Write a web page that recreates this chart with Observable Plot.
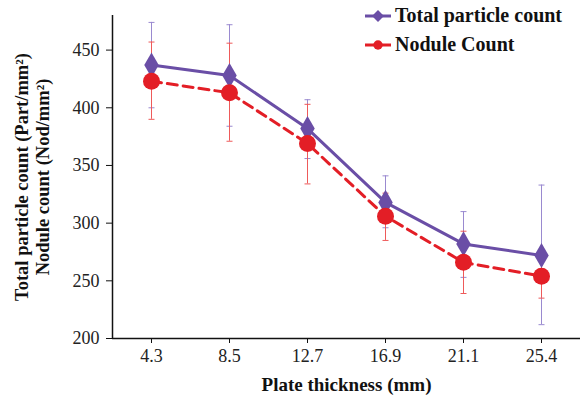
<!DOCTYPE html>
<html><head><meta charset="utf-8">
<script src="https://cdn.jsdelivr.net/npm/d3@7"></script>
<script src="https://cdn.jsdelivr.net/npm/@observablehq/plot@0.6"></script>
<style>
body{margin:0;background:#fff}
#wrap{position:relative;width:582px;height:401px}
#legend{position:absolute;left:364px;top:1px;font:bold 20px "Liberation Serif",serif;color:#111}
#legend div{display:flex;align-items:center;height:29px}
#legend svg{margin-right:3px}
</style></head><body>
<div id="wrap"><div id="chart"></div><div id="legend"></div></div>
<script>
const thickness = ["4.3","8.5","12.7","16.9","21.1","25.4"];
const seriesNames = ["Total particle count","Nodule Count"];
const totalCount = [437,428,382,318,282,272];
const totalLow   = [400,384,356,296,253,212];
const totalHigh  = [474,472,407,341,310,333];
const noduleCount = [423,413,369,306,266,254];
const noduleLow   = [390,371,334,285,239,235];
const noduleHigh  = [457,456,403,326,293,273];
const yTicks = [200,250,300,350,400,450];

const purple = "#6a4ea6", purpleErr = "#9a8ad0";
const red = "#e31e26", redErr = "#ee5a5a";
const font = '"Liberation Serif", serif';

const total = thickness.map((t,i)=>({i, t, v: totalCount[i], lo: totalLow[i], hi: totalHigh[i]}));
const nodule = thickness.map((t,i)=>({i, t, v: noduleCount[i], lo: noduleLow[i], hi: noduleHigh[i]}));

const cap = {draw(ctx){ ctx.moveTo(-3,0); ctx.lineTo(3,0); }};

const chart = Plot.plot({
  width: 582, height: 401,
  marginLeft: 112, marginRight: 2, marginTop: 15, marginBottom: 63,
  style: {fontFamily: font, fontSize: "16px", color: "#111", background: "#fff"},
  x: {domain: [-0.5, thickness.length - 0.5]},
  y: {domain: [200, 480]},
  marks: [
    Plot.axisX({ticks: thickness.map((_,i)=>i), tickFormat: i => thickness[i], tickSize: 5, tickPadding: 6, label: null, fontSize: 18, fontFamily: font, stroke: "#111", fill: "#222"}),
    Plot.axisY({ticks: yTicks, tickSize: 6, tickPadding: 7, label: null, fontSize: 18, fontFamily: font, stroke: "#111", fill: "#222"}),
    Plot.ruleY([200], {stroke: "#111", strokeWidth: 1.5}),
    Plot.ruleX([-0.5], {stroke: "#111", strokeWidth: 1.5}),
    // error bars
    Plot.ruleX(total, {x: "i", y1: "lo", y2: "hi", stroke: purpleErr, strokeWidth: 1}),
    Plot.dot(total, {x: "i", y: "lo", symbol: cap, stroke: purpleErr, strokeWidth: 1}),
    Plot.dot(total, {x: "i", y: "hi", symbol: cap, stroke: purpleErr, strokeWidth: 1}),
    Plot.ruleX(nodule, {x: "i", y1: "lo", y2: "hi", stroke: redErr, strokeWidth: 1}),
    Plot.dot(nodule, {x: "i", y: "lo", symbol: cap, stroke: redErr, strokeWidth: 1}),
    Plot.dot(nodule, {x: "i", y: "hi", symbol: cap, stroke: redErr, strokeWidth: 1}),
    // lines
    Plot.line(total, {x: "i", y: "v", stroke: purple, strokeWidth: 3}),
    Plot.line(nodule, {x: "i", y: "v", stroke: red, strokeWidth: 3, strokeDasharray: "10,6"}),
    // markers
    Plot.dot(total, {x: "i", y: "v", symbol: "diamond", r: 7.6, fill: purple, stroke: null}),
    Plot.dot(nodule, {x: "i", y: "v", symbol: "circle", r: 8.5, fill: red, stroke: null}),
    // axis titles
    Plot.text(["Plate thickness (mm)"], {frameAnchor: "bottom", dy: 52, fontWeight: "bold", fontSize: 19, fill: "#111"}),
    Plot.text(["Total particle count (Part/mm²)\nNodule count (Nod/mm²)"], {frameAnchor: "left", textAnchor: "middle", dx: -81, rotate: -90, fontWeight: "bold", fontSize: 18.5, lineHeight: 1.15, fill: "#111"})
  ]
});
document.getElementById("chart").appendChild(chart);

// legend
const legend = d3.select("#legend");
const items = [
  {name: seriesNames[0], color: purple, sym: d3.symbolDiamond2, size: 90},
  {name: seriesNames[1], color: red, sym: d3.symbolCircle, size: 70}
];
for (const it of items) {
  const row = legend.append("div");
  const s = row.append("svg").attr("width", 28).attr("height", 16);
  s.append("line").attr("x1", 1).attr("x2", 27).attr("y1", 8).attr("y2", 8).attr("stroke", it.color).attr("stroke-width", 3);
  s.append("path").attr("transform", "translate(14,8)").attr("d", d3.symbol(it.sym, it.size)()).attr("fill", it.color);
  row.append("span").text(it.name);
}
</script>
</body></html>
